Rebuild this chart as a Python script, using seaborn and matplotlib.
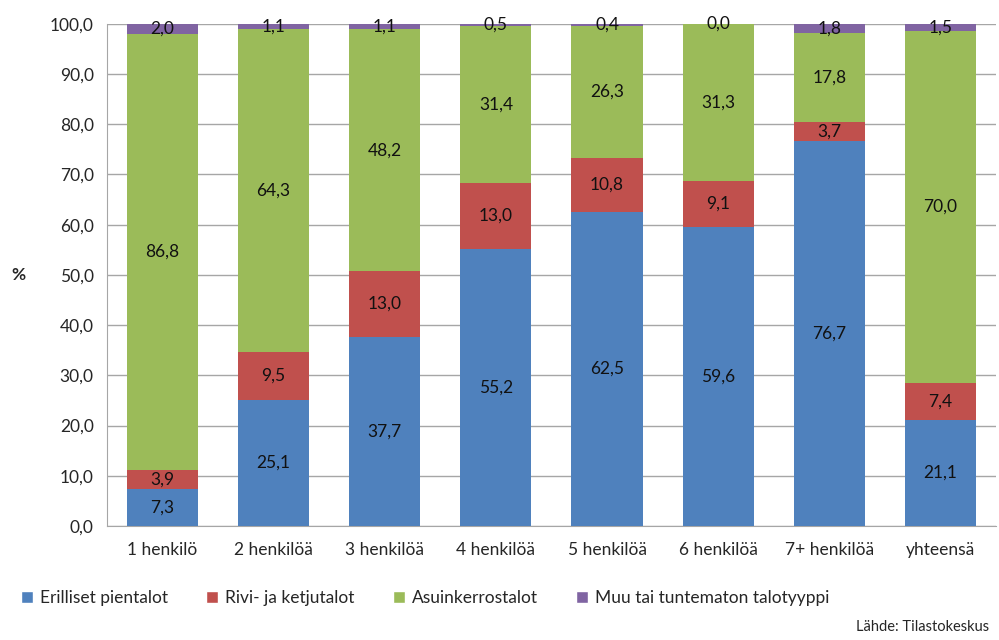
import numpy as np
import pandas as pd
import matplotlib.pyplot as plt
import seaborn as sns
from matplotlib.patches import Patch

categories = ['1 henkilö', '2 henkilöä', '3 henkilöä', '4 henkilöä',
              '5 henkilöä', '6 henkilöä', '7+ henkilöä', 'yhteensä']
erilliset = [7.3, 25.1, 37.7, 55.2, 62.5, 59.6, 76.7, 21.1]
rivi = [3.9, 9.5, 13.0, 13.0, 10.8, 9.1, 3.7, 7.4]
asuinkerros = [86.8, 64.3, 48.2, 31.4, 26.3, 31.3, 17.8, 70.0]
muu = [2.0, 1.1, 1.1, 0.5, 0.4, 0.0, 1.8, 1.5]

series = ['Erilliset pientalot', 'Rivi- ja ketjutalot', 'Asuinkerrostalot',
          'Muu tai tuntematon talotyyppi']
colors = ['#4F81BD', '#C0504D', '#9BBB59', '#8064A2']

df = pd.DataFrame({'talo': categories, series[0]: erilliset, series[1]: rivi,
                   series[2]: asuinkerros, series[3]: muu})

sns.set_style('white')
plt.rcParams['font.family'] = ['Lato', 'DejaVu Sans']

fig = plt.figure(figsize=(9.99, 6.4), dpi=100)
ax = fig.add_axes([0.107, 0.178, 0.89, 0.785])

bottom = np.zeros(len(categories))
for s, c in zip(series, colors):
    sns.barplot(data=df, x='talo', y=s, bottom=bottom, color=c, width=0.64,
                saturation=1, linewidth=0, ax=ax, zorder=3)
    bottom = bottom + df[s].values

for cont in ax.containers:
    labels = [f'{v:.1f}'.replace('.', ',') for v in cont.datavalues]
    ax.bar_label(cont, labels=labels, label_type='center', fontsize=12.5, color='#111111')

ax.set_ylim(0, 100)
ax.set_yticks(np.arange(0, 101, 10))
ax.set_yticklabels([f'{v:.1f}'.replace('.', ',') for v in np.arange(0, 101, 10)], fontsize=12.5)
ax.tick_params(axis='x', labelsize=12.5, pad=8)
ax.tick_params(axis='y', pad=6)
ax.set_xlabel('')
ax.set_ylabel('%', rotation=0, fontsize=12.5, fontweight='bold', va='center', ha='center')
ax.yaxis.set_label_coords(-0.1, 0.5)
ax.yaxis.grid(True, color='#a6a6a6', linewidth=1, zorder=0)
ax.set_axisbelow(True)
for side in ['top', 'right']:
    ax.spines[side].set_visible(False)
ax.spines['left'].set_color('#a6a6a6')
ax.spines['bottom'].set_color('#a6a6a6')

handles = [Patch(facecolor=c, label=s) for s, c in zip(series, colors)]
fig.legend(handles=handles, loc='center left', bbox_to_anchor=(0.005, 0.065), ncol=4,
           frameon=False, fontsize=12.5, handlelength=0.7, handleheight=0.7,
           handletextpad=0.4, columnspacing=2.2)
fig.text(0.99, 0.02, 'Lähde: Tilastokeskus', ha='right', va='center', fontsize=10.5)

plt.savefig('out.png', dpi=100)
